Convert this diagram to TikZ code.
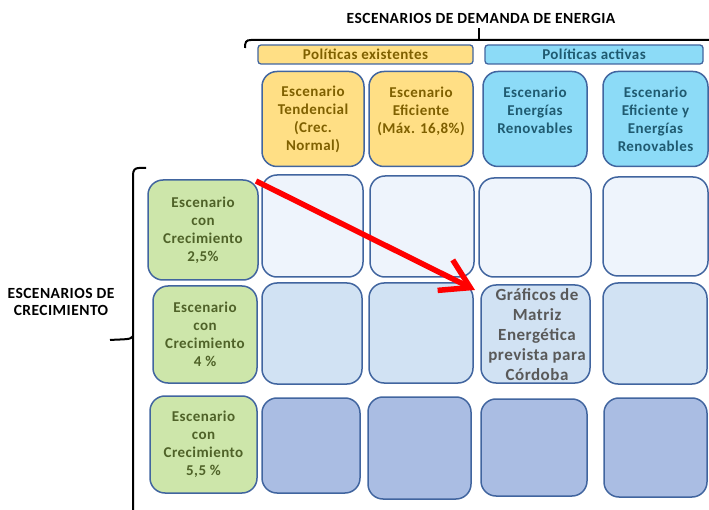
\documentclass[tikz,border=0pt]{standalone}
\usepackage{fontspec}
\setmainfont[LetterSpace=3]{Carlito}
\usetikzlibrary{arrows.meta}
\definecolor{bord}{HTML}{41659F}
\definecolor{orfill}{HTML}{FFDF85}
\definecolor{ortext}{HTML}{7F6000}
\definecolor{blfill}{HTML}{8CDBF7}
\definecolor{bltext}{HTML}{1F5A70}
\definecolor{grfill}{HTML}{CDE6AA}
\definecolor{grtext}{HTML}{4F6228}
\definecolor{rowa}{HTML}{EEF4FC}
\definecolor{rowb}{HTML}{D1E2F3}
\definecolor{rowc}{HTML}{AABDE3}
\definecolor{gtxt}{HTML}{595959}
\tikzset{
  cell/.style={draw=bord, line width=1.5pt, rounded corners=15pt, inner sep=0pt, align=center},
  hdr/.style={draw=bord, line width=1.3pt, rounded corners=3pt, inner sep=0pt, minimum height=19pt, font=\bfseries\fontsize{15}{17}\selectfont},
  boxtxt/.style={font=\bfseries\fontsize{15}{18}\selectfont},
  brace/.style={line width=2pt, black},
}
\begin{document}
\begin{tikzpicture}[x=1pt,y=-1pt]
\useasboundingbox (0,0) rectangle (709,510);
% title
\node[font=\bfseries\fontsize{15.5}{17}\selectfont] (title) at (481,18) {ESCENARIOS DE DEMANDA DE ENERGIA};
\draw[brace] (245,48) .. controls (245,42) and (246,40) .. (251,40) -- (712,40);
\draw[brace] (479,40) -- (479,28);
% left label
\node[font=\bfseries\fontsize{15.5}{17}\selectfont, align=center] (left) at (61,302) {ESCENARIOS DE\\CRECIMIENTO};
\draw[brace] (146,168) -- (139,168) .. controls (135,168) and (133,170) .. (133,175) -- (133,512);
\draw[brace] (110,340) .. controls (125,339) and (131,340) .. (133,336);
% headers
\node[hdr, fill=orfill, text=ortext, minimum width=215pt] (hPE) at (365.5,54.5) {Políticas existentes};
\node[hdr, fill=blfill, text=bltext, minimum width=218pt] (hPA) at (594,54.5) {Políticas activas};
% columns
\node[cell, boxtxt, fill=orfill, text=ortext, minimum width=102pt, minimum height=95pt] (cT) at (313,119) {Escenario\\Tendencial\\(Crec.\\Normal)};
\node[cell, boxtxt, fill=orfill, text=ortext, minimum width=104pt, minimum height=95pt] (cE) at (421,119) {Escenario\\Eficiente\\(Máx. 16,8\%)\\ \mbox{}};
\node[cell, boxtxt, fill=blfill, text=bltext, minimum width=104pt, minimum height=95pt] (cR) at (535,119) {Escenario\\Energías\\Renovables\\ \mbox{}};
\node[cell, boxtxt, fill=blfill, text=bltext, minimum width=105pt, minimum height=95pt] (cER) at (655.5,119) {Escenario\\Eficiente y\\Energías\\Renovables};
% rows
\node[cell, boxtxt, fill=grfill, text=grtext, minimum width=110pt, minimum height=100pt] (r1) at (203,230) {Escenario\\con\\Crecimiento\\2,5\%};
\node[cell, boxtxt, fill=grfill, text=grtext, minimum width=104pt, minimum height=97pt] (r2) at (205,334.5) {Escenario\\con\\Crecimiento\\4 \%};
\node[cell, boxtxt, fill=grfill, text=grtext, minimum width=107pt, minimum height=97pt] (r3) at (203.5,444.5) {Escenario\\con\\Crecimiento\\5,5 \%};
% grid row 1
\node[cell, fill=rowa, minimum width=101pt, minimum height=102pt] (g11) at (312.5,226) {};
\node[cell, fill=rowa, minimum width=104pt, minimum height=101pt] (g12) at (422,226.5) {};
\node[cell, fill=rowa, minimum width=112pt, minimum height=99pt] (g13) at (535,227.5) {};
\node[cell, fill=rowa, minimum width=105pt, minimum height=99pt] (g14) at (655.5,226.5) {};
% grid row 2
\node[cell, fill=rowb, minimum width=100pt, minimum height=101pt] (g21) at (312,333.5) {};
\node[cell, fill=rowb, minimum width=104pt, minimum height=100pt] (g22) at (421,333) {};
\node[cell, fill=rowb, minimum width=109pt, minimum height=98pt] (g23) at (535.5,334) {};
\node[cell, fill=rowb, minimum width=104pt, minimum height=101pt] (g24) at (655,333.5) {};
% grid row 3
\node[cell, fill=rowc, minimum width=98pt, minimum height=95pt] (g31) at (311,445.5) {};
\node[cell, fill=rowc, minimum width=103pt, minimum height=102pt] (g32) at (419.5,448) {};
\node[cell, fill=rowc, minimum width=106pt, minimum height=97pt] (g33) at (534,447.5) {};
\node[cell, fill=rowc, minimum width=103pt, minimum height=99pt] (g34) at (655.5,447.5) {};
% text in g23
\node[font=\bfseries\fontsize{17}{20}\selectfont, text=gtxt, align=center, inner sep=0pt] (gt) at (537,335) {Gráficos de\\Matriz\\Energética\\prevista para\\Córdoba};
% red arrow
\coordinate (as) at (256,181);
\coordinate (ae) at (475,290);
\draw[red, line width=5.5pt, -{Straight Barb[length=28pt,width=34pt]}] (as) -- (ae);
\end{tikzpicture}
\end{document}
